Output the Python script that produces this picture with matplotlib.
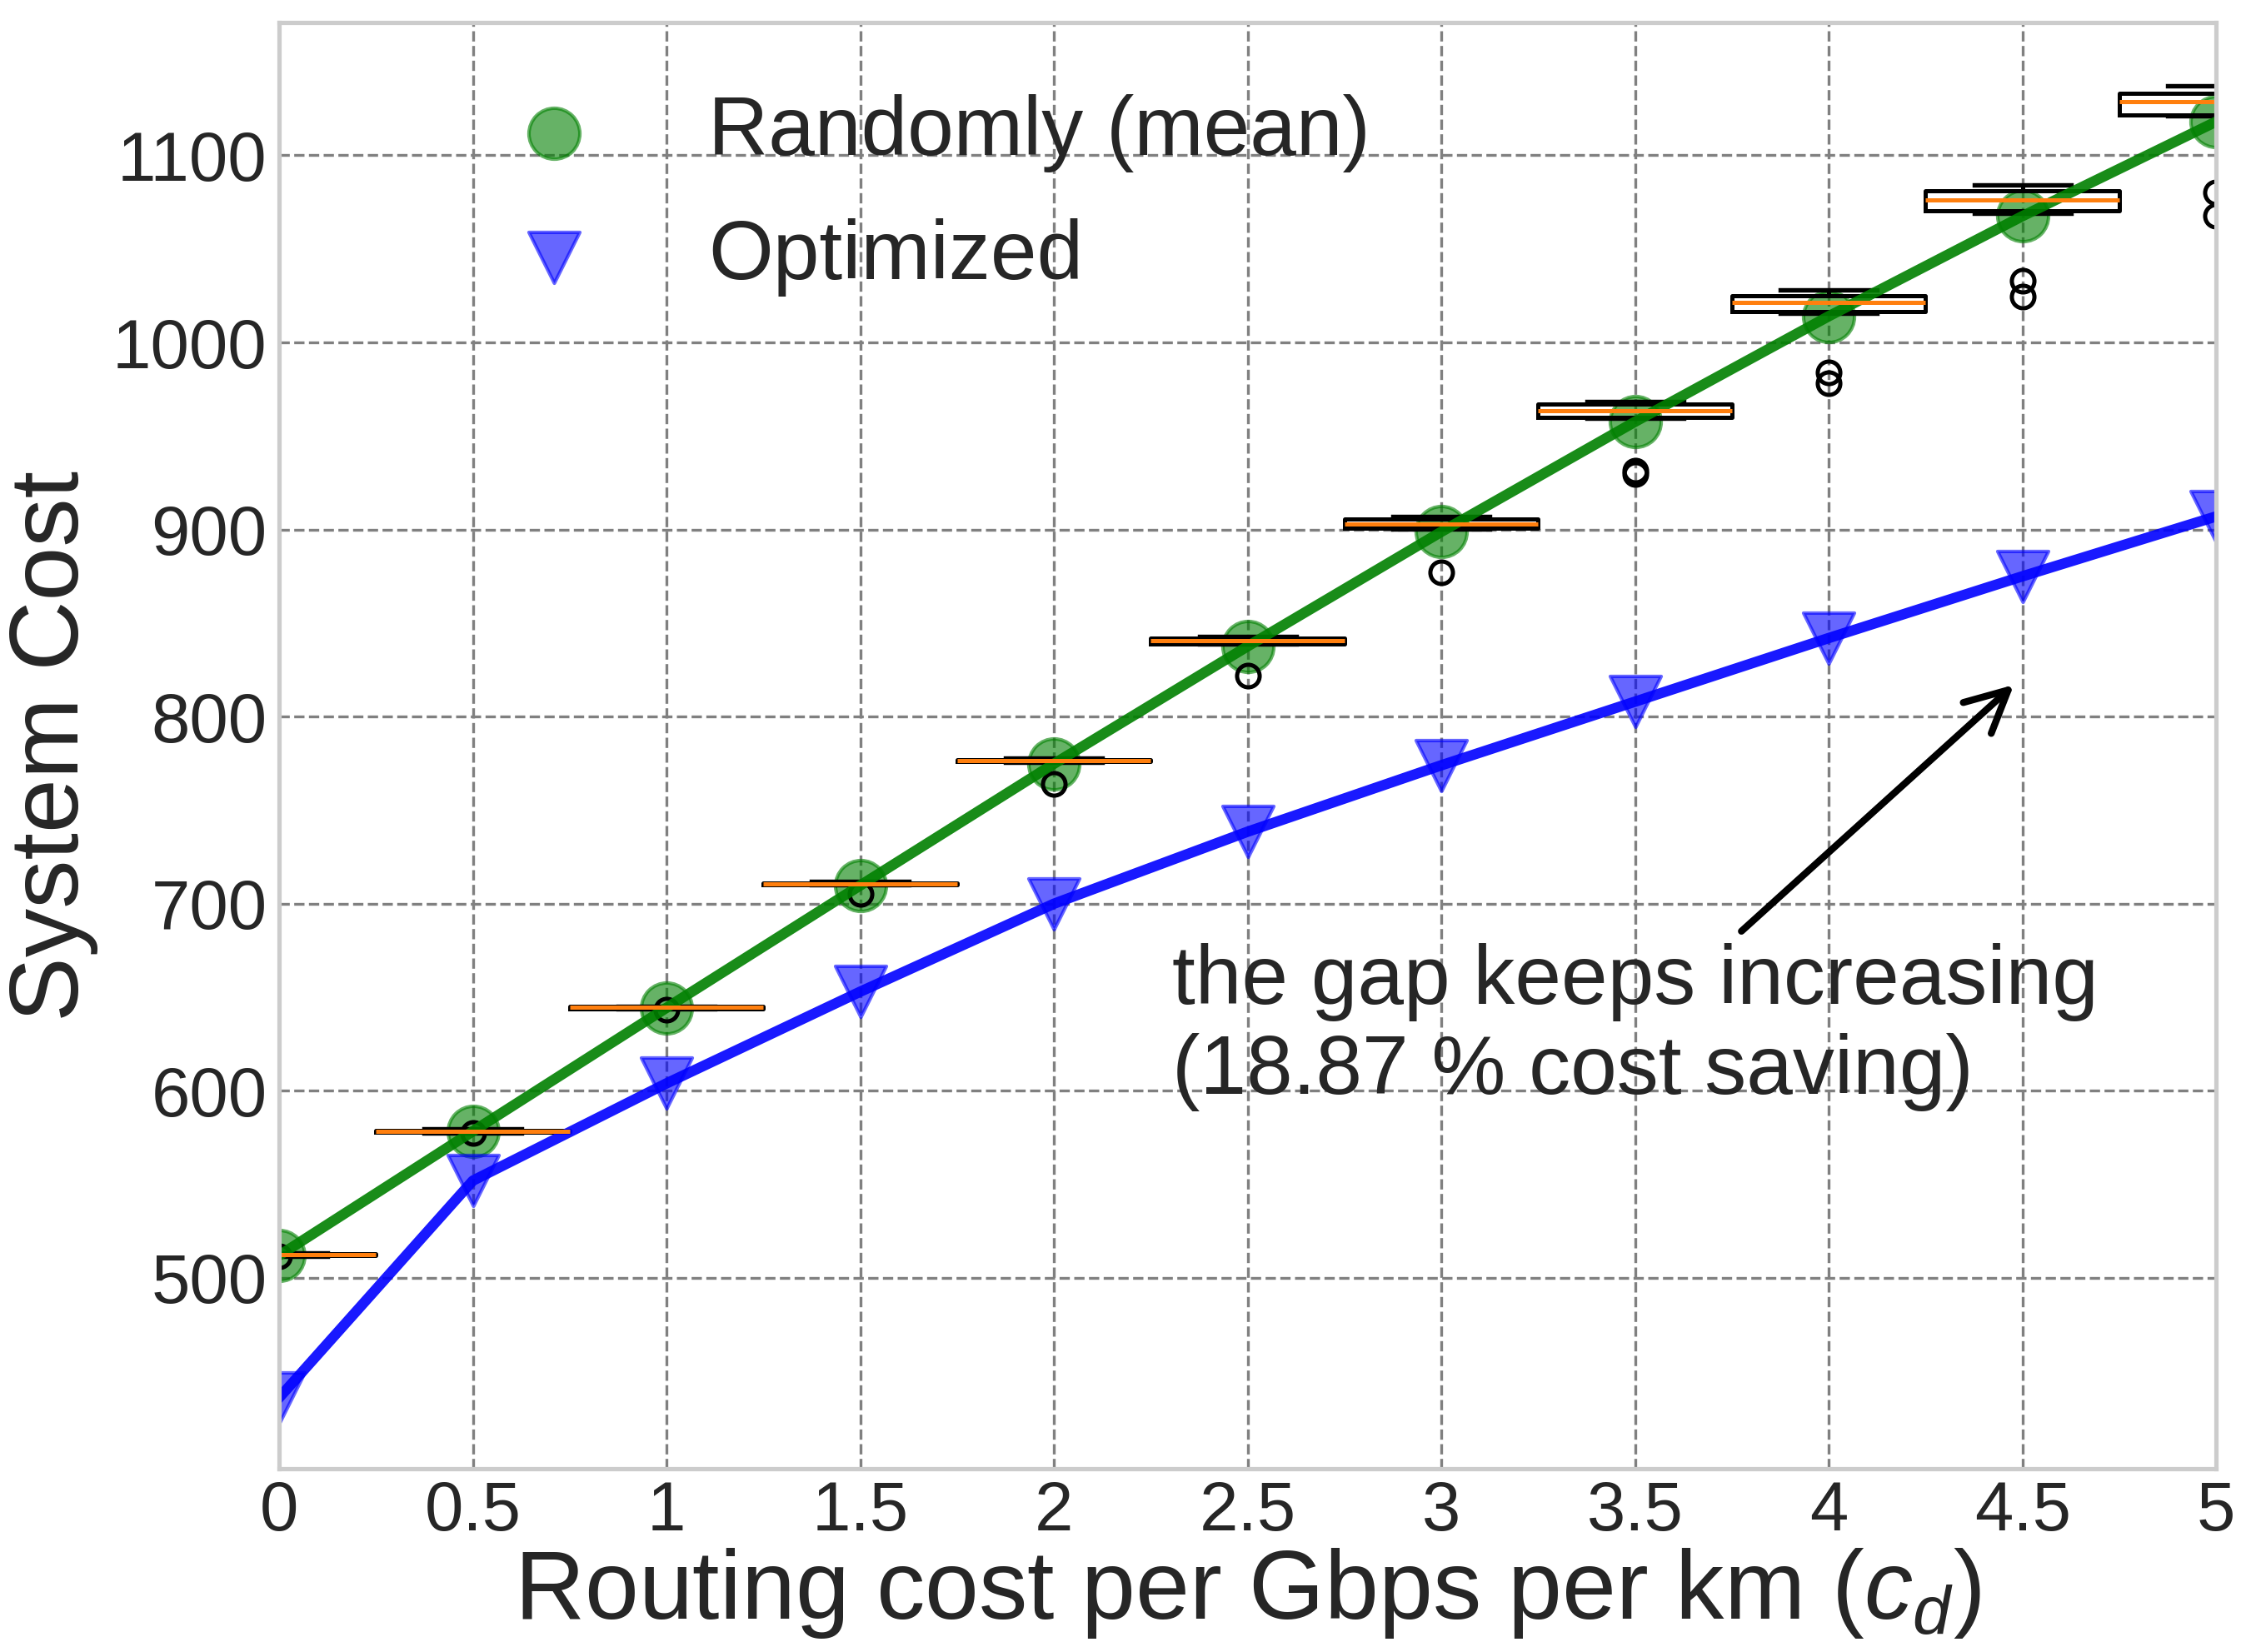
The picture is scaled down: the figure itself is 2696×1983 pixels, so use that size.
import matplotlib
matplotlib.use("Agg")
import matplotlib.pyplot as plt

# routing cost values on the x axis
cd = [0, 0.5, 1, 1.5, 2, 2.5, 3, 3.5, 4, 4.5, 5]
cd_labels = ["0", "0.5", "1", "1.5", "2", "2.5", "3", "3.5", "4", "4.5", "5"]

# system cost
random_mean = [512, 578.4, 644.4, 709.8, 774.8, 837.6, 898.8, 957.6, 1014, 1067.5, 1118]
optimized = [436, 552, 604, 653, 700, 738.5, 774, 808, 842, 875, 907]

# box plot stats of the random placements
box_med = [512.5, 578.5, 644.5, 710.8, 776.5, 840.5, 903, 963.5, 1021.5, 1076, 1128.5]
box_q1 = [512, 578, 644, 710.3, 776, 839, 900.5, 960, 1016.3, 1070.5, 1121.5]
box_q3 = [513, 579, 645, 711.2, 777, 841.8, 905.5, 967, 1025, 1081, 1133]
box_lo = [511.5, 577.5, 643.8, 710, 775.8, 838.8, 900.2, 959.6, 1015.8, 1069.2, 1121]
box_hi = [513.5, 579.5, 645.3, 711.8, 777.8, 843, 906.8, 968.2, 1028, 1084, 1137]
box_fliers = [[511.5], [577.5], [643.5], [705.3], [764], [822], [877.3],
              [931.5, 929.8], [983.8, 978.2], [1033, 1024.5], [1080, 1067.5]]

plt.rcParams['font.family'] = ['Liberation Sans', 'DejaVu Sans']
plt.rcParams['mathtext.fontset'] = 'custom'
plt.rcParams['mathtext.rm'] = 'Liberation Sans'
plt.rcParams['mathtext.it'] = 'Liberation Sans:italic'
plt.rcParams['text.color'] = '#262626'
plt.rcParams['axes.labelcolor'] = '#262626'
plt.rcParams['xtick.color'] = '#262626'
plt.rcParams['ytick.color'] = '#262626'

fig = plt.figure(figsize=(2696 / 300, 1983 / 300), dpi=300)
ax = fig.add_axes([0.1243, 0.1109, 0.8624, 0.8755])

stats = []
for i in range(len(cd)):
    stats.append(dict(med=box_med[i], q1=box_q1[i], q3=box_q3[i],
                      whislo=box_lo[i], whishi=box_hi[i], fliers=box_fliers[i]))
ax.bxp(stats, positions=cd, widths=0.5, manage_ticks=False,
       boxprops=dict(lw=1.2), whiskerprops=dict(lw=1.2),
       capprops=dict(lw=1.3), medianprops=dict(lw=1.2),
       flierprops=dict(mew=1.2, markersize=6.5))

ax.scatter(cd, random_mean, s=215, marker='o', color='green', alpha=0.6,
           label='Randomly (mean)')
ax.scatter(cd, optimized, s=215, marker='v', color='blue', alpha=0.6,
           label='Optimized')
ax.plot(cd, random_mean, color='green', lw=3, alpha=0.9)
ax.plot(cd, optimized, color='blue', lw=3, alpha=0.9)

ax.annotate('the gap keeps increasing\n(18.87 % cost saving)',
            xy=(4.478, 817), xytext=(2.305, 634), textcoords='data',
            ha='left', va='center', fontsize=24,
            arrowprops=dict(arrowstyle='->', lw=2, color='k',
                            shrinkB=0, mutation_scale=30))

ax.set_xlim(0, 5)
ax.set_ylim(398, 1171)
ax.set_xticks(cd)
ax.set_xticklabels(cd_labels)
ax.set_yticks([500, 600, 700, 800, 900, 1000, 1100])
ax.tick_params(labelsize=20, length=0)
ax.tick_params(axis='x', pad=3)
ax.tick_params(axis='y', pad=3.5)

ax.grid(True, color='gray', linestyle='--', lw=0.8)
ax.set_axisbelow(True)
for sp in ax.spines.values():
    sp.set_color('#cccccc')
    sp.set_linewidth(1.25)

ax.set_xlabel('Routing cost per Gbps per km ($c_d$)', fontsize=28, labelpad=0.5)
ax.set_ylabel('System Cost', fontsize=28)

ax.legend(loc='upper left', bbox_to_anchor=(0.058, 1.002), frameon=False,
          fontsize=24, scatterpoints=1, handlelength=2.1, labelspacing=0.55)

fig.savefig('out.png', dpi=300)
